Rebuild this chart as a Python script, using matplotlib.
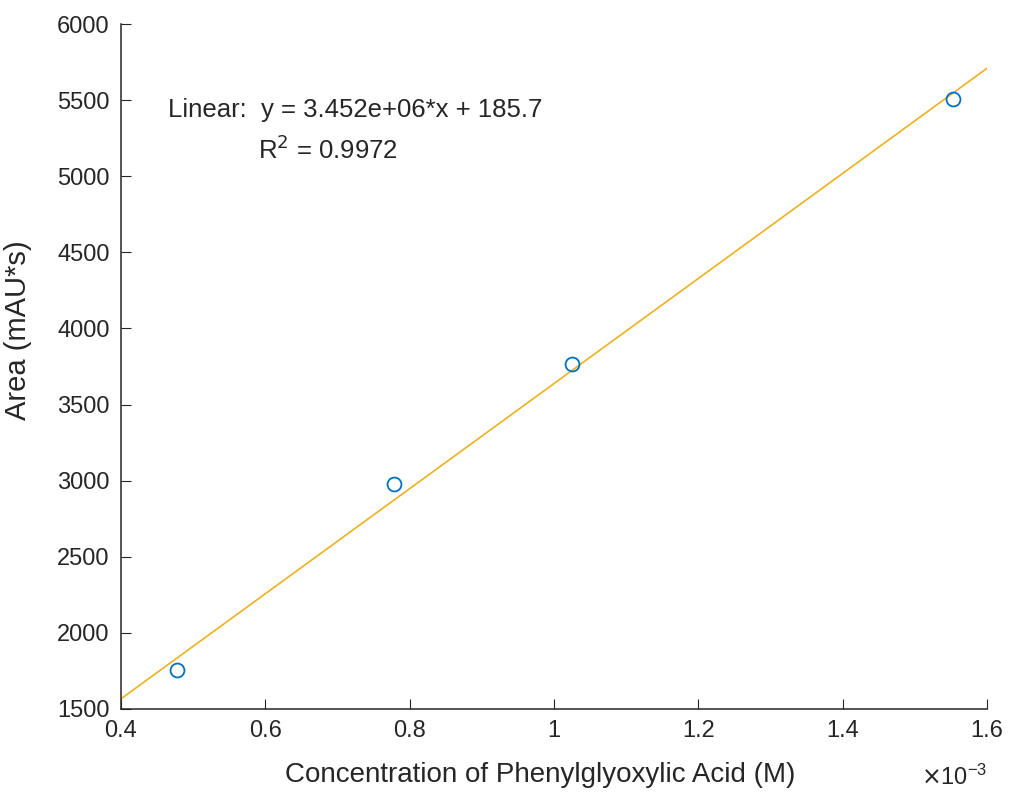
import numpy as np
import matplotlib.pyplot as plt

plt.rcParams['font.family'] = ['Liberation Sans', 'DejaVu Sans']

# data (concentration in M, area in mAU*s)
conc = [0.478e-3, 0.778e-3, 1.025e-3, 1.553e-3]
area = [1756, 2978, 3767, 5508]
slope = 3.452e6
intercept = 185.7
r2 = 0.9972

fig = plt.figure(figsize=(10.13, 7.95), dpi=100)
ax = fig.add_axes([0.1194, 0.1082, 0.8549, 0.8616])

xfit = np.array([0.4e-3, 1.6e-3])
ax.plot(xfit, slope * xfit + intercept, color=(0.929, 0.694, 0.125), lw=1.2)
ax.plot(conc, area, 'o', mfc='none', mec=(0, 0.447, 0.741), ms=10, mew=1.3)

ax.set_xlim(0.4e-3, 1.6e-3)
ax.set_ylim(1500, 6000)
xt = np.arange(0.4, 1.61, 0.2)
ax.set_xticks(xt * 1e-3)
ax.set_xticklabels(['0.4', '0.6', '0.8', '1', '1.2', '1.4', '1.6'])
ax.set_yticks(np.arange(1500, 6001, 500))

for s in ['top', 'right']:
    ax.spines[s].set_visible(False)
for s in ['left', 'bottom']:
    ax.spines[s].set_color('#262626')
    ax.spines[s].set_linewidth(1.1)
ax.tick_params(direction='in', length=7, colors='#262626', labelsize=17, pad=8)

ax.set_xlabel('Concentration of Phenylglyoxylic Acid (M)', fontsize=20, color='#262626')
ax.set_ylabel('Area (mAU*s)', fontsize=21, color='#262626')
ax.xaxis.set_label_coords(0.484, -0.077)
ax.yaxis.set_label_coords(-0.103, 0.553)

ax.text(1.0, -0.1, r'$\times\mathregular{10^{-3}}$', transform=ax.transAxes,
        ha='right', va='center', fontsize=17, color='#262626')

ax.text(0.271, 0.874, 'Linear:  y = %.3e*x + %.1f' % (slope, intercept),
        transform=ax.transAxes, ha='center', va='center', fontsize=18.5, color='#262626')
ax.text(0.239, 0.816, r'R$^2$ = %.4f' % r2,
        transform=ax.transAxes, ha='center', va='center', fontsize=18.5, color='#262626')

fig.savefig('out.png', dpi=100)
